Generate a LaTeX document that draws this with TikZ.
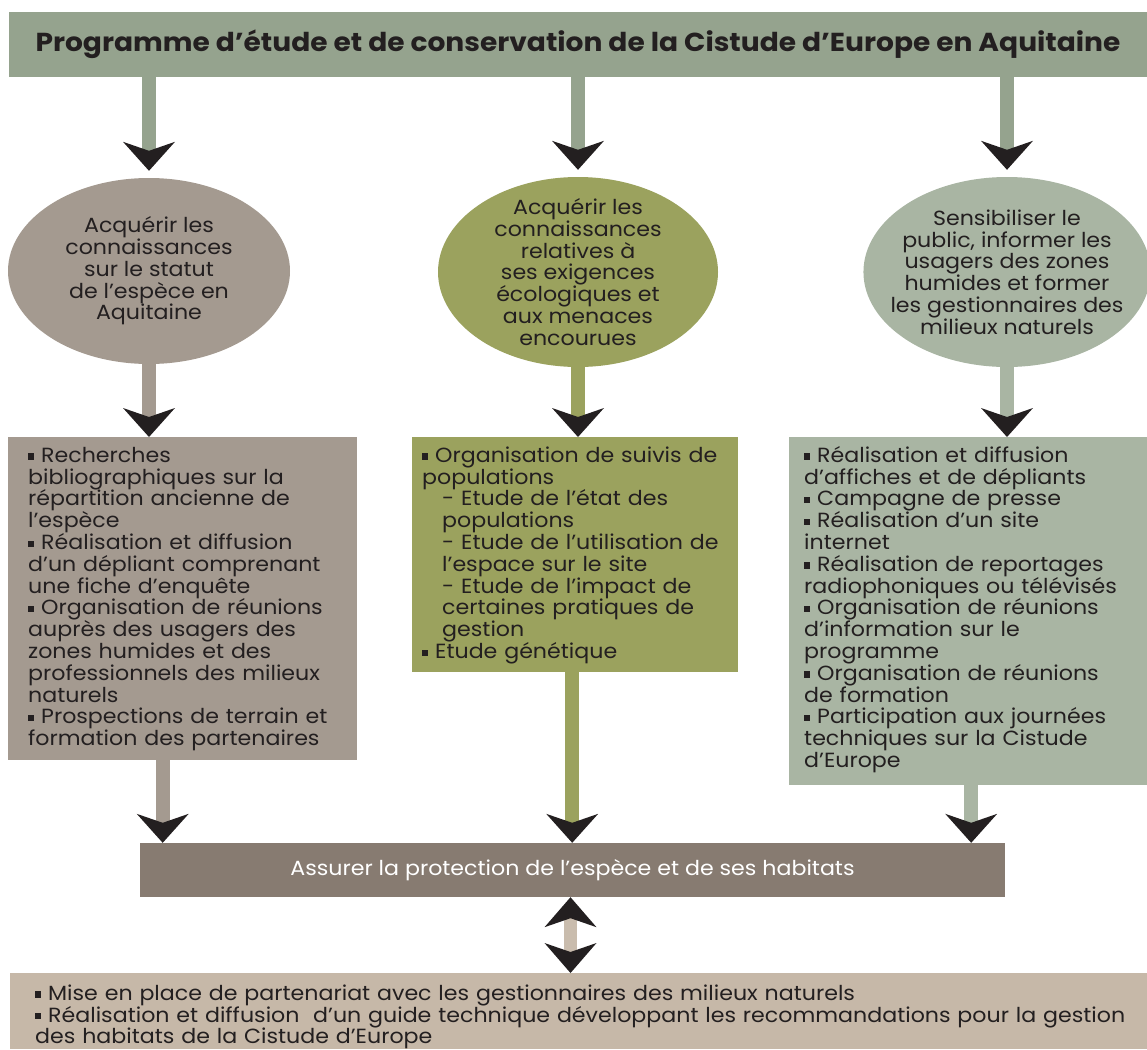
\documentclass[tikz,border=0pt]{standalone}
\usepackage{fontspec}
\setmainfont{Poppins}[FakeStretch=1.08]
\usepackage{xcolor}
\usepackage{tikz}
\usetikzlibrary{shapes.geometric, arrows.meta}
\definecolor{vertprog}{RGB}{149, 163, 142}
\definecolor{taupe}{RGB}{164, 154, 144}
\definecolor{vertolive}{RGB}{155, 162, 94}
\definecolor{vertsauge}{RGB}{169, 181, 163}
\definecolor{brunprot}{RGB}{135, 123, 113}
\definecolor{beigegest}{RGB}{198, 184, 168}
\definecolor{beigeclair}{RGB}{201, 188, 173}
\definecolor{encre}{RGB}{35, 31, 32}
\newcommand{\puce}{\rule[0.13em]{0.3em}{0.3em}\ }
\newcommand{\retrait}{\hspace*{20pt}}

\begin{document}
\begin{tikzpicture}[
    x=1pt, y=-1pt,
    texte/.style={font=\fontsize{20.5}{21.8}\selectfont, text=encre},
    bulle/.style={ellipse, texte, inner sep=-15pt, align=center},
    liste/.style={rectangle, texte, anchor=north west, align=left, inner ysep=11pt, text height=14pt},
    fleche/.style={line width=14pt, -{Stealth[length=29pt, width=52pt, inset=9pt, line width=0pt, color=encre]}},
    doublefleche/.style={line width=13pt, {Stealth[length=30pt, width=52pt, inset=9pt, line width=0pt, color=encre]}-{Stealth[length=30pt, width=52pt, inset=9pt, line width=0pt, color=encre]}}
]
\useasboundingbox (0,0) rectangle (1147,1049);
\node[rectangle, fill=vertprog, minimum width=1138pt, minimum height=65pt, inner sep=0pt, text=encre, font=\fontsize{26}{30}\selectfont\bfseries] (titre) at (578,44.5) {Programme d’étude et de conservation de la Cistude d’Europe en Aquitaine};

\node[bulle, fill=taupe, minimum width=282pt, minimum height=186pt] (statut) at (149,271) {Acquérir les\\connaissances\\sur le statut\\de l’espèce en\\Aquitaine};
\node[bulle, fill=vertolive, minimum width=280pt, minimum height=190pt] (exigences) at (578,272) {Acquérir les\\connaissances\\relatives à\\ses exigences\\écologiques et\\aux menaces\\encourues};
\node[bulle, fill=vertsauge, minimum width=278pt, minimum height=190pt] (public) at (1007,272) {Sensibiliser le\\public, informer les\\usagers des zones\\humides et former\\les gestionnaires des\\milieux naturels};

\node[liste, fill=taupe, inner xsep=20pt, text width=309pt, text depth=287pt] (recherches) at (8,437) {\puce Recherches\\bibliographiques sur la\\répartition ancienne de\\l’espèce\\\puce Réalisation et diffusion\\d’un dépliant comprenant\\une fiche d’enquête\\\puce Organisation de réunions\\auprès des usagers des\\zones humides et des\\professionnels des milieux\\naturels\\\puce Prospections de terrain et\\formation des partenaires};
\node[liste, fill=vertolive, inner xsep=10pt, text width=306pt, text depth=199pt] (suivis) at (412,437) {\puce Organisation de suivis de\\populations\\\retrait- Etude de l’état des\\\retrait populations\\\retrait- Etude de l’utilisation de\\\retrait l’espace sur le site\\\retrait- Etude de l’impact de\\\retrait certaines pratiques de\\\retrait gestion\\\puce Etude génétique};
\node[liste, fill=vertsauge, inner xsep=15pt, text width=328pt, text depth=312pt] (diffusion) at (789,437) {\puce Réalisation et diffusion\\d’affiches et de dépliants\\\puce Campagne de presse\\\puce Réalisation d’un site\\internet\\\puce Réalisation de reportages\\radiophoniques ou télévisés\\\puce Organisation de réunions\\d’information sur le\\programme\\\puce Organisation de réunions\\de formation\\\puce Participation aux journées\\techniques sur la Cistude\\d’Europe};

\node[rectangle, fill=brunprot, minimum width=865pt, minimum height=54pt, inner sep=0pt, text=white, font=\fontsize{20.5}{21.8}\selectfont] (protection) at (572.5,870) {Assurer la protection de l’espèce et de ses habitats};
\node[liste, fill=beigegest, inner xsep=25pt, inner ysep=13pt, text width=1110pt, text depth=36pt] (gestion) at (10,973) {\puce Mise en place de partenariat avec les gestionnaires des milieux naturels\\\puce Réalisation et diffusion\ \ d’un guide technique développant les recommandations pour la gestion\\des habitats de la Cistude d’Europe};

\draw[fleche, vertprog, shorten >=7pt] (titre.south -| statut.north) -- (statut.north);
\draw[fleche, vertprog, shorten >=7pt] (titre.south -| exigences.north) -- (exigences.north);
\draw[fleche, vertprog, shorten >=7pt] (titre.south -| public.north) -- (public.north);
\draw[fleche, taupe] (statut.south) -- (statut.south |- recherches.north);
\draw[fleche, vertolive] (exigences.south) -- (exigences.south |- suivis.north);
\draw[fleche, vertsauge] (public.south) -- (public.south |- diffusion.north);
\draw[fleche, taupe] ([xshift=-20pt]recherches.south) -- ([xshift=-20pt]recherches.south |- protection.north);
\draw[fleche, vertolive] ([xshift=-3pt]suivis.south) -- ([xshift=-3pt]suivis.south |- protection.north);
\draw[fleche, vertsauge] ([xshift=3pt]diffusion.south) -- ([xshift=3pt]diffusion.south |- protection.north);
\draw[doublefleche, beigeclair] ([xshift=-2pt]protection.south) -- ([xshift=-2pt]protection.south |- gestion.north);
\end{tikzpicture}
\end{document}
